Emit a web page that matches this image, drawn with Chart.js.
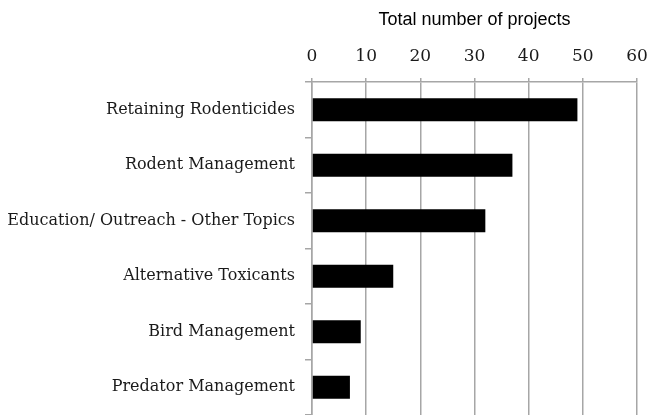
<!DOCTYPE html>
<html>
<head>
<meta charset="utf-8">
<script src="https://cdn.jsdelivr.net/npm/chart.js@4/dist/chart.umd.min.js"></script>
<style>
  html, body { margin: 0; padding: 0; background: #fff; overflow: hidden; }
  canvas { display: block; }
</style>
</head>
<body>
<canvas id="chart" width="648" height="415"></canvas>
<script>
// data
const categories = [
    'Retaining Rodenticides',
    'Rodent Management',
    'Education/ Outreach - Other Topics',
    'Alternative Toxicants',
    'Bird Management',
    'Predator Management'
];
const projects = [49, 37, 32, 15, 9, 7];
const axisTitle = 'Total number of projects';

const gridColor = '#a6a6a6';

const ctx = document.getElementById('chart').getContext('2d');
new Chart(ctx, {
    type: 'bar',
    data: {
        labels: categories,
        datasets: [
            {
                label: axisTitle,
                data: projects,
                backgroundColor: '#000000',
                borderWidth: 0,
                barPercentage: 0.41,
                categoryPercentage: 1
            }
        ]
    },
    options: {
        indexAxis: 'y',
        responsive: false,
        animation: false,
        layout: {
            padding: { left: 0, top: 0, bottom: 0, right: 11 }
        },
        plugins: {
            legend: { display: false },
            tooltip: { enabled: false }
        },
        scales: {
            x: {
                position: 'top',
                min: 0,
                max: 60,
                ticks: {
                    stepSize: 10,
                    color: '#1a1a1a',
                    padding: 11,
                    font: { family: 'DejaVu Serif', size: 17 }
                },
                grid: {
                    color: gridColor,
                    lineWidth: 1.5,
                    tickLength: 4
                },
                border: { color: gridColor, width: 1.5 },
                title: {
                    display: true,
                    text: axisTitle,
                    color: '#000',
                    padding: { top: 9, bottom: 8 },
                    font: { family: 'Liberation Sans', size: 18 }
                },
                afterFit: scale => {
                    scale.height = 82;
                    scale.paddingLeft = 0;
                    scale.paddingRight = 0;
                }
            },
            y: {
                ticks: {
                    color: '#1a1a1a',
                    padding: 10,
                    font: { family: 'DejaVu Serif', size: 16 }
                },
                grid: {
                    offset: true,
                    drawOnChartArea: false,
                    color: gridColor,
                    lineWidth: 1.5,
                    tickLength: 7
                },
                border: { color: gridColor, width: 1.5 },
                afterFit: scale => {
                    scale.width = 312;
                    scale.paddingTop = 0;
                    scale.paddingBottom = 0;
                }
            }
        }
    }
});
</script>
</body>
</html>
